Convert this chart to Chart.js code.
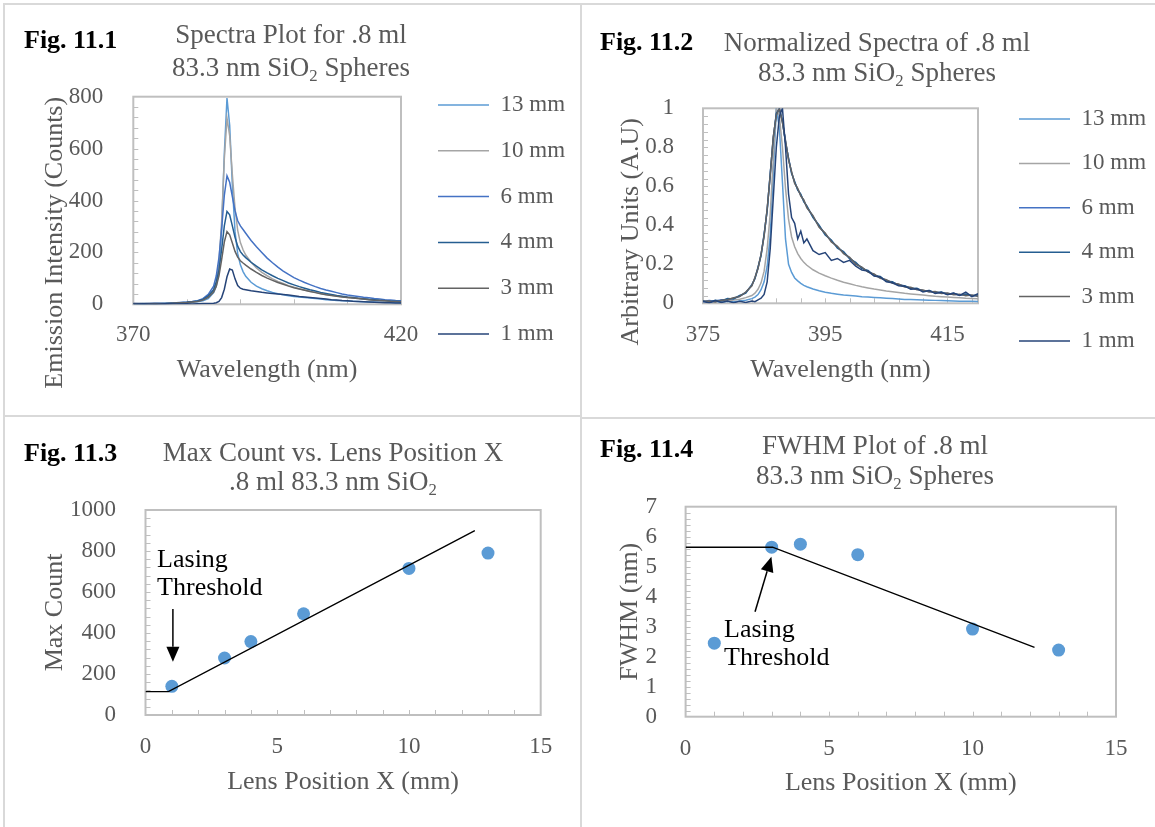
<!DOCTYPE html>
<html lang="en">
  <head>
    <meta charset="UTF-8">
    <title>Spectra and lasing threshold of .8 ml 83.3 nm SiO2 spheres</title>
    <script src="https://cdn.jsdelivr.net/npm/chart.js@4.4.6/dist/chart.umd.min.js"></script>
    <style>
      body { margin: 0; width: 1155px; height: 827px; position: relative; overflow: hidden; background: #fff;
             font-family: "Liberation Serif", "Times New Roman", serif; }
      .rule { position: absolute; background: #d9d9d9; }
      canvas { position: absolute; }
      .fig { position: absolute; font-size: 26px; line-height: 28px; font-weight: bold; color: #000; white-space: nowrap; }
      .ttl { position: absolute; width: 420px; text-align: center; font-size: 27px; color: #595959; white-space: nowrap; }
      .ttl sub { font-size: 0.62em; line-height: 0; vertical-align: -0.3em; }
    </style>
  </head>
  <body>
    <!-- table borders -->
    <div class="rule" style="left:3px;top:3px;width:1152px;height:2px"></div>
    <div class="rule" style="left:3px;top:3px;width:2px;height:824px"></div>
    <div class="rule" style="left:580px;top:3px;width:2px;height:824px"></div>
    <div class="rule" style="left:3px;top:415px;width:577px;height:2px"></div>
    <div class="rule" style="left:582px;top:417px;width:573px;height:2px"></div>

    <canvas id="c1" width="576" height="411" style="left:5px;top:5px"></canvas>
    <canvas id="c2" width="573" height="411" style="left:582px;top:5px"></canvas>
    <canvas id="c3" width="576" height="409" style="left:5px;top:418px"></canvas>
    <canvas id="c4" width="573" height="409" style="left:582px;top:418px"></canvas>

    <div class="fig" style="left:24px;top:26px">Fig. 11.1</div>
    <div class="ttl" style="left:81px;top:18px;line-height:33px">Spectra Plot for .8 ml<br>83.3 nm SiO<sub>2</sub> Spheres</div>

    <div class="fig" style="left:600px;top:28px">Fig. 11.2</div>
    <div class="ttl" style="left:667px;top:27px;line-height:30px">Normalized Spectra of .8 ml<br>83.3 nm SiO<sub>2</sub> Spheres</div>

    <div class="fig" style="left:24px;top:439px">Fig. 11.3</div>
    <div class="ttl" style="left:123px;top:438px;line-height:29px">Max Count vs. Lens Position X<br>.8 ml 83.3 nm SiO<sub>2</sub></div>

    <div class="fig" style="left:600px;top:435px">Fig. 11.4</div>
    <div class="ttl" style="left:665px;top:430px;line-height:30px">FWHM Plot of .8 ml<br>83.3 nm SiO<sub>2</sub> Spheres</div>

    <script>
      // ---------- data ----------
      const seriesNames = ['13 mm', '10 mm', '6 mm', '4 mm', '3 mm', '1 mm'];
      const seriesColors = ['#5b9bd5', '#a5a5a5', '#4472c4', '#255e91', '#636363', '#264478'];

      // Fig 11.1 - raw counts
      const wl1 = [370, 372, 374, 376, 378, 380,
        381, 382, 383, 384, 385,
        385.5, 386, 386.5, 387, 387.5, 388, 388.5, 389, 389.5, 390, 390.5, 391,
        392, 393, 394, 395, 396, 397, 398, 399, 400,
        401, 402, 403, 404, 405, 406, 407, 408, 409, 410,
        411, 412, 413, 414, 415, 416, 417, 418, 419, 420];
      const counts13 = [2, 1, 3, 2, 4, 6,
        8, 10, 14, 22, 45,
        70, 130, 290, 580, 795, 690, 460, 280, 195, 152, 126, 108,
        85, 70, 60, 52, 46, 41, 37, 33, 30,
        28, 26, 24, 22, 20, 18, 17, 15, 14, 13,
        12, 11, 10, 9, 9, 8, 8, 7, 7, 6];
      const counts10 = [1, 3, 2, 3, 5, 7,
        9, 12, 18, 30, 55,
        85, 160, 320, 560, 717, 650, 500, 370, 285, 238, 210, 190,
        162, 140, 123, 110, 98, 88, 80, 72, 66,
        60, 55, 50, 46, 42, 38, 35, 32, 29, 26,
        24, 22, 20, 18, 17, 15, 14, 13, 12, 11];
      const counts6 = [3, 2, 4, 3, 6, 9,
        11, 14, 22, 38, 70,
        110, 180, 290, 420, 495, 470, 415, 360, 322, 302, 288, 274,
        246, 222, 200, 178, 160, 143, 128, 115, 103,
        93, 84, 76, 68, 61, 55, 50, 45, 40, 36,
        33, 30, 27, 25, 22, 20, 18, 17, 15, 14];
      const counts4 = [2, 3, 2, 4, 5, 8,
        10, 13, 19, 32, 56,
        86, 132, 212, 302, 358, 345, 302, 258, 224, 203, 190, 180,
        162, 147, 133, 121, 110, 100, 91, 82, 75,
        68, 62, 56, 51, 46, 42, 38, 34, 31, 28,
        26, 23, 21, 19, 18, 16, 15, 13, 12, 11];
      const counts3 = [3, 2, 3, 2, 5, 7,
        9, 11, 16, 27, 47,
        70, 110, 172, 240, 280, 268, 236, 204, 182, 168, 159, 151,
        136, 123, 111, 101, 92, 84, 77, 70, 64,
        59, 54, 49, 45, 41, 37, 34, 31, 28, 26,
        24, 22, 20, 18, 16, 15, 14, 12, 11, 10];
      const counts1 = [1, 2, 0, 2, 1, 2,
        1, 2, 3, 3, 4,
        6, 11, 26, 58, 106, 136, 132, 98, 72, 62, 58, 56,
        52, 49, 46, 44, 42, 40, 38, 36, 33,
        30, 28, 26, 24, 22, 20, 18, 17, 15, 14,
        12, 11, 10, 9, 8, 7, 6, 6, 5, 5];

      // Fig 11.2 - normalized
      const wl2 = [375, 376, 377, 378, 379, 380, 381, 382, 383,
        383.5, 384, 384.5, 385, 385.5, 386, 386.5, 387, 387.5, 388, 388.5, 389, 389.5, 390, 390.5, 391, 391.5, 392,
        393, 394, 395, 396, 397, 398, 399, 400,
        401, 402, 403, 404, 405, 406, 407, 408, 409, 410,
        411, 412, 413, 414, 415, 416, 417, 418, 419, 420];
      const norm13 = [.01, .004, .012, .006, .01, .008, .012, .016, .024,
        .032, .045, .07, .11, .19, .35, .66, 1, .9, .62, .33, .2, .158, .13, .115, .102, .092, .085,
        .073, .064, .057, .051, .047, .043, .04, .037,
        .034, .032, .03, .028, .026, .024, .022, .02, .019, .018,
        .017, .016, .015, .014, .013, .012, .011, .01, .01, .009];
      const norm10 = [.006, .012, .008, .014, .012, .017, .021, .029, .04,
        .052, .072, .105, .165, .28, .46, .74, 1, .96, .8, .59, .43, .34, .29, .255, .23, .21, .195,
        .172, .155, .141, .129, .118, .108, .1, .092,
        .085, .079, .073, .068, .063, .059, .055, .051, .048, .045,
        .042, .039, .036, .034, .032, .03, .028, .026, .025, .023];
      const norm6 = [.008, .014, .01, .018, .02, .026, .036, .056, .092,
        .13, .18, .25, .35, .48, .66, .85, .97, 1, .93, .83, .74, .67, .62, .585, .555, .525, .495,
        .445, .395, .355, .32, .288, .26, .232, .205,
        .183, .163, .147, .132, .118, .106, .096, .087, .079, .072,
        .066, .061, .057, .053, .05, .047, .044, .042, .04, .038];
      const norm4 = [.012, .006, .016, .012, .024, .022, .04, .052, .096,
        .126, .185, .245, .355, .475, .665, .845, .975, .995, .935, .825, .745, .665, .625, .58, .56, .52, .5,
        .44, .4, .35, .325, .283, .265, .228, .21,
        .178, .168, .142, .137, .113, .11, .092, .09, .076, .077,
        .062, .066, .054, .058, .047, .052, .041, .047, .037, .044];
      const norm3 = [.01, .012, .007, .016, .018, .028, .034, .058, .09,
        .132, .178, .252, .345, .485, .655, .855, .965, 1, .925, .835, .735, .675, .615, .59, .55, .53, .49,
        .45, .39, .36, .315, .292, .255, .236, .2,
        .186, .16, .15, .128, .121, .103, .099, .084, .082, .069,
        .068, .058, .06, .05, .053, .044, .047, .039, .043, .036];
      const norm1 = [.01, .002, .014, .004, .012, .003, .01, .004, .012,
        .008, .018, .026, .045, .11, .28, .54, .8, .96, 1, .8, .56, .44, .41, .33, .37, .31, .33,
        .27, .25, .26, .22, .23, .21, .22, .19,
        .17, .165, .14, .135, .11, .105, .09, .088, .072, .075,
        .058, .066, .05, .056, .044, .052, .04, .057, .034, .05];

      // Fig 11.3 / 11.4
      const lensPos = [1, 3, 4, 6, 10, 13];
      const maxCount = [140, 278, 358, 494, 715, 790];
      const fwhm = [2.45, 5.65, 5.75, 5.4, 2.92, 2.22];
      const countTrendX = [0, 0.87, 12.5];
      const countTrendY = [114, 114, 899];
      const fwhmTrendX = [0, 3.03, 12.16];
      const fwhmTrendY = [5.65, 5.65, 2.31];

      // tick labels
      const ticks1X = [370, 420];
      const ticks1Y = [0, 200, 400, 600, 800];
      const ticks2X = [375, 395, 415];
      const ticks2Y = [0, 0.2, 0.4, 0.6, 0.8, 1];
      const ticksLens = [0, 5, 10, 15];
      const ticks3Y = [0, 200, 400, 600, 800, 1000];
      const ticks4Y = [0, 1, 2, 3, 4, 5, 6, 7];

      // "Lasing Threshold" callouts, in data units
      const countNote = { text: ['Lasing', 'Threshold'], at: [0.44, 756], from: [1.04, 517], to: [1.04, 260] };
      const fwhmNote = { text: ['Lasing', 'Threshold'], at: [1.34, 2.89], from: [2.42, 3.5], to: [2.99, 5.33] };

      // ---------- chart setup ----------
      Chart.defaults.font.family = '"Liberation Serif", "Times New Roman", serif';
      Chart.defaults.color = '#595959';
      Chart.defaults.animation = false;

      // Excel-like plot box with small inside tick marks
      const plotFrame = {
        id: 'plotFrame',
        beforeDatasetsDraw(chart, args, opts) {
          const { ctx, chartArea: a, scales: { x, y } } = chart;
          ctx.save();
          ctx.strokeStyle = '#bfbfbf';
          ctx.lineWidth = 1;
          for (let i = 1; x.min + i * opts.minorX < x.max - 1e-6; i++) {
            const px = Math.round(x.getPixelForValue(x.min + i * opts.minorX)) + 0.5;
            ctx.beginPath(); ctx.moveTo(px, a.bottom); ctx.lineTo(px, a.bottom - 5); ctx.stroke();
          }
          for (let i = 1; y.min + i * opts.minorY < y.max - 1e-6; i++) {
            const py = Math.round(y.getPixelForValue(y.min + i * opts.minorY)) + 0.5;
            ctx.beginPath(); ctx.moveTo(a.left, py); ctx.lineTo(a.left + 5, py); ctx.stroke();
          }
          ctx.lineWidth = 2;
          ctx.strokeRect(a.left, a.top, a.width, a.height);
          ctx.restore();
        }
      };

      // move the legend block next to the plot like the original
      // (right edge widened too, the legend clips to its own box)
      const legendNudge = {
        id: 'legendNudge',
        afterLayout(chart, args, opts) {
          const lg = chart.legend;
          if (!lg || !lg.options.display) return;
          lg.left += opts.dx; lg.right += opts.dx + 80;
          lg.top += opts.dy; lg.bottom += opts.dy;
        }
      };

      function callout(note) {
        return {
          id: 'callout',
          afterDatasetsDraw(chart) {
            const { ctx, scales: { x, y } } = chart;
            ctx.save();
            ctx.fillStyle = '#000';
            ctx.strokeStyle = '#000';
            ctx.font = '26px "Liberation Serif", "Times New Roman", serif';
            ctx.textBaseline = 'middle';
            note.text.forEach((t, i) => {
              ctx.fillText(t, x.getPixelForValue(note.at[0]), y.getPixelForValue(note.at[1]) + i * 28.5);
            });
            const x0 = x.getPixelForValue(note.from[0]), y0 = y.getPixelForValue(note.from[1]);
            const x1 = x.getPixelForValue(note.to[0]), y1 = y.getPixelForValue(note.to[1]);
            const ang = Math.atan2(y1 - y0, x1 - x0), head = 15, half = 6.5;
            const c = Math.cos(ang), s = Math.sin(ang);
            ctx.lineWidth = 1.5;
            ctx.beginPath(); ctx.moveTo(x0, y0); ctx.lineTo(x1 - head * c, y1 - head * s); ctx.stroke();
            ctx.beginPath();
            ctx.moveTo(x1, y1);
            ctx.lineTo(x1 - head * c + half * s, y1 - head * s - half * c);
            ctx.lineTo(x1 - head * c - half * s, y1 - head * s + half * c);
            ctx.closePath(); ctx.fill();
            ctx.restore();
          }
        };
      }

      function axis(o) {
        return {
          type: 'linear',
          min: o.min,
          max: o.max,
          afterBuildTicks: (s) => { s.ticks = o.ticks.map((v) => ({ value: v })); },
          afterFit: (s) => {
            if (o.width) s.width = o.width;
            if (o.height) s.height = o.height;
          },
          grid: { display: false },
          border: { display: false },
          ticks: { padding: o.pad, autoSkip: false, maxRotation: 0, font: { size: 23 }, callback: (v) => String(v) },
          title: { display: true, text: o.title, font: { size: 26 }, padding: { top: 0, bottom: o.titlePad || 0 } }
        };
      }

      function spectra(wl, series) {
        return series.map((vals, i) => ({
          label: seriesNames[i],
          data: wl.map((x, j) => ({ x: x, y: vals[j] })),
          borderColor: seriesColors[i],
          backgroundColor: seriesColors[i],
          borderWidth: 1.5,
          pointRadius: 0,
          tension: 0,
          order: series.length - i
        }));
      }

      function legendOpts(pad) {
        return {
          position: 'right',
          align: 'start',
          maxWidth: 120,
          labels: {
            usePointStyle: true, pointStyle: 'line', pointStyleWidth: 51, padding: pad,
            color: '#595959', font: { size: 23 },
            sort: (a, b) => a.datasetIndex - b.datasetIndex
          }
        };
      }

      // Fig 11.1
      new Chart(document.getElementById('c1'), {
        type: 'line',
        data: { datasets: spectra(wl1, [counts13, counts10, counts6, counts4, counts3, counts1]) },
        options: {
          responsive: false, devicePixelRatio: 1, events: [],
          layout: { autoPadding: false, padding: { left: 34.9, right: 60, top: 91.7, bottom: 0 } },
          scales: {
            x: axis({ min: 370, max: 420, ticks: ticks1X, height: 111.7, pad: 9, title: 'Wavelength (nm)', titlePad: 30.4 }),
            y: axis({ min: 0, max: 800, ticks: ticks1Y, width: 93.4, pad: 22, title: 'Emission Intensity (Counts)' + ' '.repeat(13) })
          },
          plugins: {
            legend: legendOpts(22.8),
            legendNudge: { dx: 14.2, dy: -26 },
            plotFrame: { minorX: 10, minorY: 40 },
            tooltip: { enabled: false }
          }
        },
        plugins: [plotFrame, legendNudge]
      });

      // Fig 11.2
      new Chart(document.getElementById('c2'), {
        type: 'line',
        data: { datasets: spectra(wl2, [norm13, norm10, norm6, norm4, norm3, norm1]) },
        options: {
          responsive: false, devicePixelRatio: 1, events: [],
          layout: { autoPadding: false, padding: { left: 33.4, right: 57, top: 103.3, bottom: 0 } },
          scales: {
            x: axis({ min: 375, max: 420, ticks: ticks2X, height: 112.7, pad: 10, title: 'Wavelength (nm)', titlePad: 30.4 }),
            y: axis({ min: 0, max: 1, ticks: ticks2Y, width: 87.6, pad: 21, title: 'Arbitrary Units (A.U)' + ' '.repeat(8) })
          },
          plugins: {
            legend: legendOpts(21.4),
            legendNudge: { dx: 19.6, dy: -22.2 },
            plotFrame: { minorX: 4, minorY: 0.04 },
            tooltip: { enabled: false }
          }
        },
        plugins: [plotFrame, legendNudge]
      });

      // Fig 11.3
      new Chart(document.getElementById('c3'), {
        type: 'scatter',
        data: {
          datasets: [
            { label: 'Max Count', data: lensPos.map((x, i) => ({ x: x, y: maxCount[i] })),
              pointRadius: 6.5, pointBackgroundColor: '#5b9bd5', pointBorderWidth: 0, order: 1 },
            { label: 'Trend', data: countTrendX.map((x, i) => ({ x: x, y: countTrendY[i] })),
              showLine: true, borderColor: '#000', borderWidth: 1.4, pointRadius: 0, order: 0 }
          ]
        },
        options: {
          responsive: false, devicePixelRatio: 1, events: [],
          layout: { autoPadding: false, padding: { left: 34.2, right: 40.3, top: 92, bottom: 0 } },
          scales: {
            x: axis({ min: 0, max: 15, ticks: ticksLens, height: 112, pad: 10.2, title: 'Lens Position X (mm)', titlePad: 29.7 }),
            y: axis({ min: 0, max: 1000, ticks: ticks3Y, width: 106.3, pad: 21.5, title: 'Max Count' })
          },
          plugins: {
            legend: { display: false },
            plotFrame: { minorX: 1, minorY: 40 },
            tooltip: { enabled: false }
          }
        },
        plugins: [plotFrame, callout(countNote)]
      });

      // Fig 11.4
      new Chart(document.getElementById('c4'), {
        type: 'scatter',
        data: {
          datasets: [
            { label: 'FWHM', data: lensPos.map((x, i) => ({ x: x, y: fwhm[i] })),
              pointRadius: 6.5, pointBackgroundColor: '#5b9bd5', pointBorderWidth: 0, order: 1 },
            { label: 'Trend', data: fwhmTrendX.map((x, i) => ({ x: x, y: fwhmTrendY[i] })),
              showLine: true, borderColor: '#000', borderWidth: 1.4, pointRadius: 0, order: 0 }
          ]
        },
        options: {
          responsive: false, devicePixelRatio: 1, events: [],
          layout: { autoPadding: false, padding: { left: 33, right: 39, top: 88.7, bottom: 0 } },
          scales: {
            x: axis({ min: 0, max: 15, ticks: ticksLens, height: 110.3, pad: 10.2, title: 'Lens Position X (mm)', titlePad: 28.4 }),
            y: axis({ min: 0, max: 7, ticks: ticks4Y, width: 70.6, pad: 20.6, title: 'FWHM (nm)' })
          },
          plugins: {
            legend: { display: false },
            plotFrame: { minorX: 1, minorY: 0.2 },
            tooltip: { enabled: false }
          }
        },
        plugins: [plotFrame, callout(fwhmNote)]
      });
    </script>
  </body>
</html>
